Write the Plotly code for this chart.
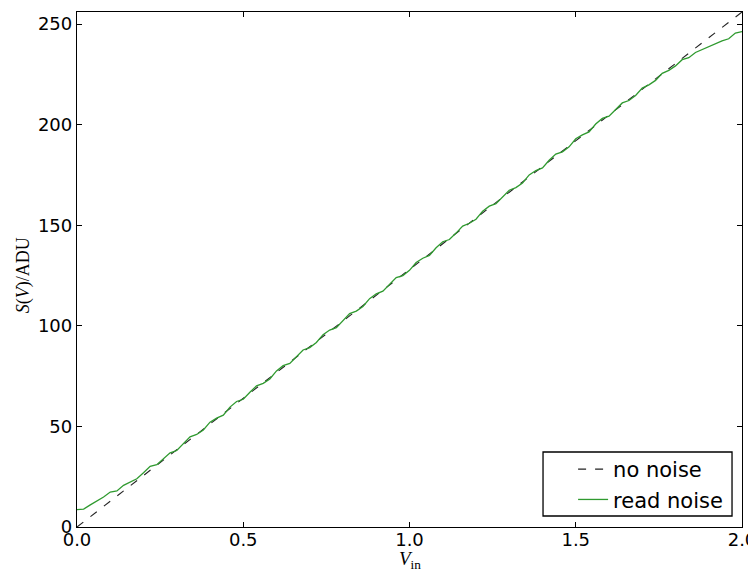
import numpy as np
import plotly.graph_objects as go

# Input voltage grid
v_in = np.linspace(0.0, 2.0, 101)

# Ideal response (no noise)
ideal_x = [0.0, 2.0]
ideal_y = [0.0, 256.0]

# Measured response with read noise (ADU)
read_noise = [
    8.6, 8.9, 11.0, 12.9, 14.9, 17.4, 17.9, 20.7, 22.4, 24.0,
    27.0, 30.2, 31.0, 33.8, 36.9, 38.0, 41.6, 44.8, 46.0, 48.2,
    52.1, 54.1, 55.6, 59.6, 62.4, 63.5, 67.0, 70.2, 71.4, 73.6,
    77.6, 80.2, 81.3, 84.8, 88.0, 89.2, 91.7, 95.6, 97.9, 99.1,
    102.8, 106.1, 107.3, 109.6, 113.5, 115.9, 117.2, 120.6, 124.0, 125.0,
    127.6, 131.5, 133.6, 135.0, 138.8, 141.8, 142.9, 146.1, 149.6, 151.0,
    153.0, 157.0, 159.5, 160.7, 164.2, 167.4, 168.7, 171.0, 175.0, 177.2,
    178.5, 182.3, 185.4, 186.5, 189.0, 193.0, 194.9, 196.4, 200.3, 203.1,
    204.2, 207.6, 210.8, 212.0, 214.5, 218.2, 219.8, 222.0, 225.5, 227.0,
    229.2, 232.3, 233.3, 235.9, 237.3, 238.7, 240.5, 241.6, 242.7, 245.5,
    246.3,
]

x_ticks = [0.0, 0.5, 1.0, 1.5, 2.0]
y_ticks = [0, 50, 100, 150, 200, 250]

fig = go.Figure()
fig.add_trace(go.Scatter(
    x=ideal_x, y=ideal_y, mode="lines", name="no noise",
    line=dict(color="#222222", width=1.1, dash="8px,9px"),
))
fig.add_trace(go.Scatter(
    x=v_in, y=read_noise, mode="lines", name="read noise",
    line=dict(color="#2f9a2f", width=1.3),
))

axis_common = dict(
    showgrid=False, zeroline=False, showline=True, linecolor="black",
    linewidth=1.3, mirror="ticks", ticks="inside", ticklen=5,
    tickcolor="black", tickwidth=1, automargin=False,
    tickfont=dict(family="DejaVu Sans", size=18, color="black"),
)

fig.update_layout(
    width=756, height=572,
    margin=dict(l=69, r=22, t=4, b=53),
    plot_bgcolor="white", paper_bgcolor="white",
    showlegend=True,
    legend=dict(
        x=0.746, y=0.0136, xanchor="left", yanchor="bottom",
        borderwidth=0, bgcolor="rgba(0,0,0,0)",
        font=dict(family="DejaVu Sans", size=21, color="black"),
        tracegroupgap=0, itemwidth=30,
    ),
    xaxis=dict(range=[0, 2], tickvals=x_ticks, tickformat=".1f",
               ticklabelstandoff=-4, **axis_common),
    yaxis=dict(range=[0, 256], tickvals=y_ticks, **axis_common),
    shapes=[dict(
        type="rect", xref="paper", yref="paper",
        x0=0.7008, x1=0.985, y0=0.0214, y1=0.1456,
        line=dict(color="black", width=1.3), fillcolor="white", layer="below",
    )],
    annotations=[
        dict(text="<i>V</i><sub>in</sub>", xref="paper", yref="paper",
             x=0.5, y=-0.064, xanchor="center", yanchor="middle", showarrow=False,
             font=dict(family="Liberation Serif", size=19, color="black")),
        dict(text="<i>S</i>(<i>V</i>)/ADU", xref="paper", yref="paper",
             x=-0.0812, y=0.489, xanchor="center", yanchor="middle", showarrow=False,
             textangle=-90,
             font=dict(family="Liberation Serif", size=18, color="black")),
    ],
)

fig.write_html("out.html")
